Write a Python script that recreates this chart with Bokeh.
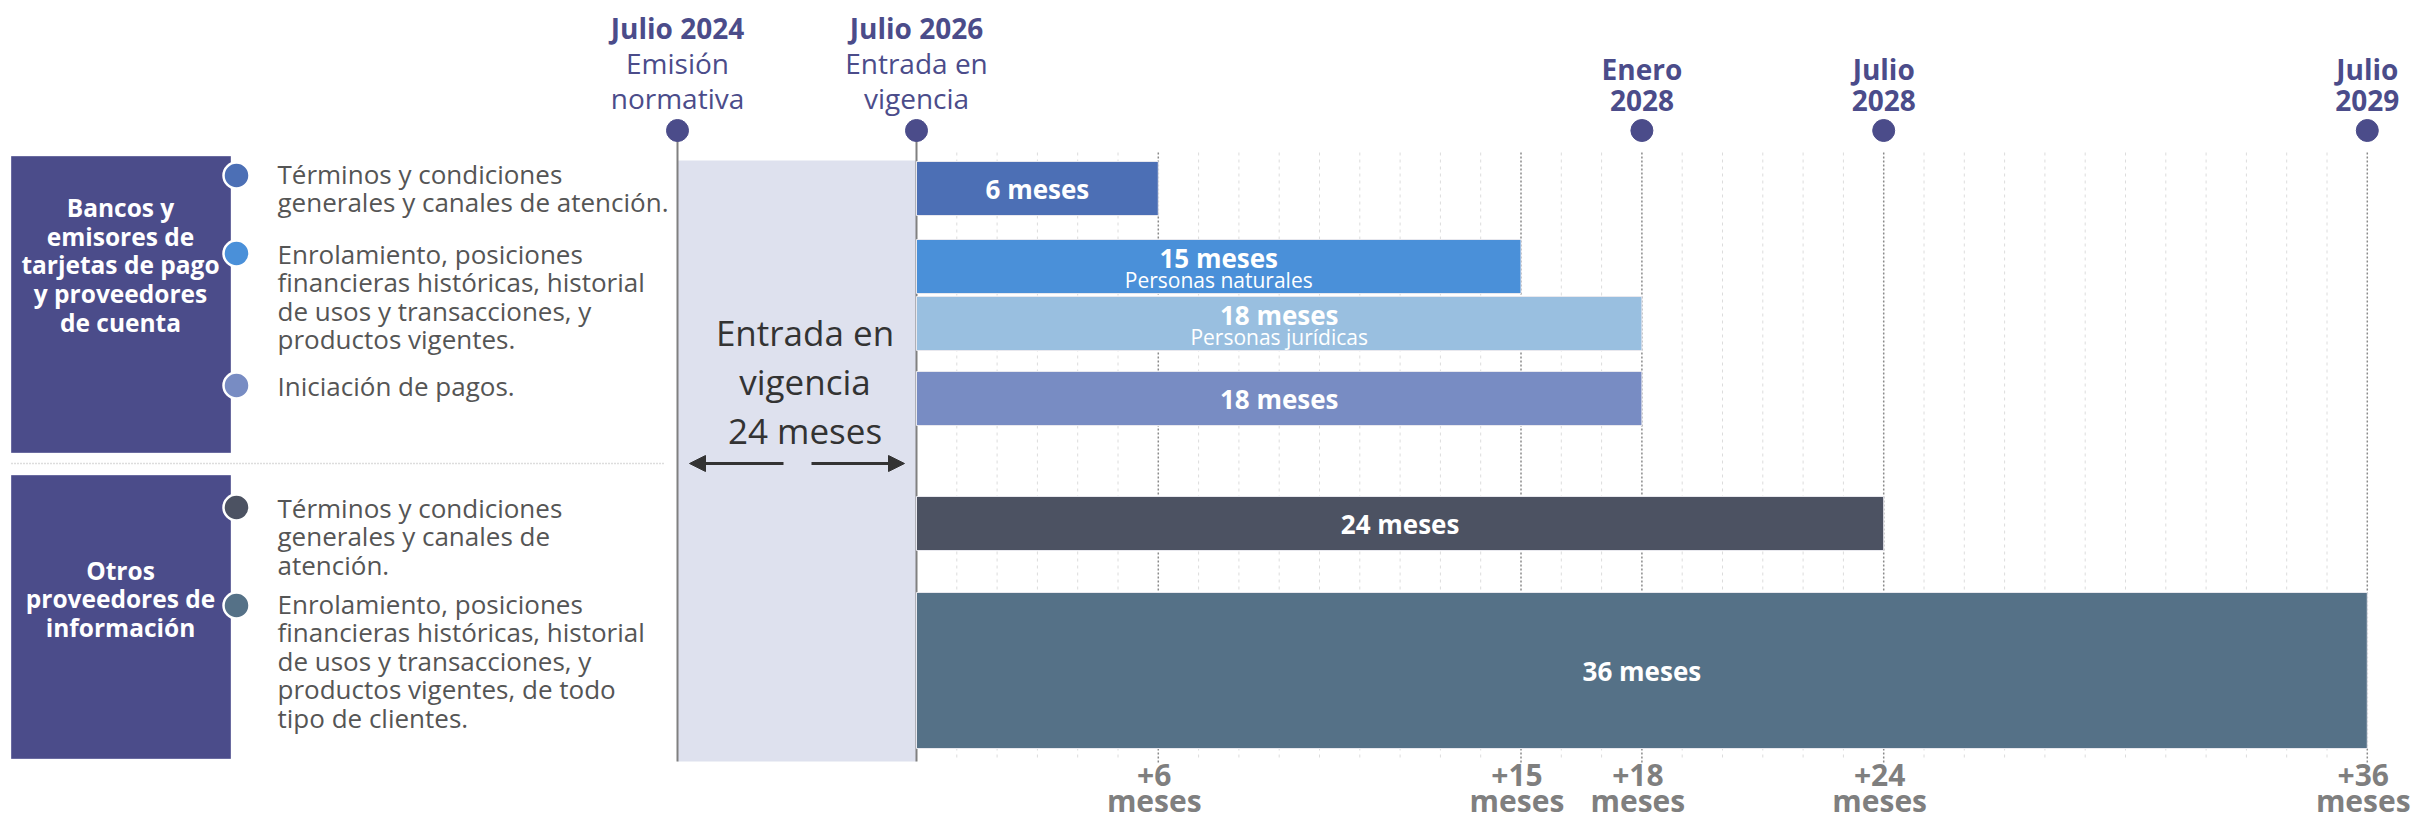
from bokeh.plotting import figure
from bokeh.models import Range1d, Arrow, NormalHead
from bokeh.core.properties import value
from bokeh.embed import file_html
from bokeh.resources import INLINE

# ---------------- data ----------------
group_lines = [
    ["Bancos y", "emisores de", "tarjetas de pago", "y proveedores", "de cuenta"],
    ["Otros", "proveedores de", "información"],
]
item_lines = [
    ["Términos y condiciones", "generales y canales de atención."],
    ["Enrolamiento, posiciones", "financieras históricas, historial", "de usos y transacciones, y", "productos vigentes."],
    ["Iniciación de pagos."],
    ["Términos y condiciones", "generales y canales de", "atención."],
    ["Enrolamiento, posiciones", "financieras históricas, historial", "de usos y transacciones, y", "productos vigentes, de todo", "tipo de clientes."],
]
durations = [6, 15, 18, 18, 24, 36]
bar_labels = ["6 meses", "15 meses", "18 meses", "18 meses", "24 meses", "36 meses"]
bar_sublabels = ["", "Personas naturales", "Personas jurídicas", "", "", ""]
milestone_months = [-24, 0, 18, 24, 36]
milestone_titles = [["Julio 2024"], ["Julio 2026"], ["Enero", "2028"], ["Julio", "2028"], ["Julio", "2029"]]
milestone_subtitles = [["Emisión", "normativa"], ["Entrada en", "vigencia"], [], [], []]
tick_months = [6, 15, 18, 24, 36]
tick_labels = ["+6", "+15", "+18", "+24", "+36"]
tick_unit = "meses"
period_lines = ["Entrada en", "vigencia", "24 meses"]

# ---------------- layout / style ----------------
W, H = 2412, 822
X0_PAGE, PXM = 916.0, 40.3          # canvas x of month 0, pixels per month
PRE_SPAN = (916.0 - 677.0) / PXM     # drawn width of the 24-month pre-period


def pm(xp):
    """canvas x pixel -> x data (months)"""
    return (xp - X0_PAGE) / PXM


def draw_m(m):
    return m if m >= 0 else m * PRE_SPAN / 24.0


FONT = value("Open Sans")
INDIGO = "#4b4c8a"
bar_colors = ["#4c6fb5", "#4a90d9", "#99bfe0", "#788cc3", "#4c5262", "#557187"]
bullet_colors = ["#4c6fb5", "#4a90d9", "#788cc3", "#4c5262", "#557187"]
bar_y = [188, 266, 323, 398, 523, 670]
bar_h = [54, 54, 54, 54, 54, 156]
box_tops = [156, 475]
box_bottoms = [452, 758]
group_text_y = [[207, 236, 264, 293, 322], [570, 598, 627]]
item_y0 = [173, 253, 385, 507, 603]
bullet_y = [175, 253, 385, 507, 605]
LINE_H = 28.6

p = figure(width=W, height=H, output_backend="svg", toolbar_location=None,
           x_range=Range1d(pm(0), pm(W)), y_range=Range1d(H, 0),
           x_axis_location=None, y_axis_location=None, min_border=0)
p.outline_line_color = None
p.xgrid.visible = False
p.ygrid.visible = False
p.background_fill_color = "white"

# shaded pre-period
p.quad(left=[draw_m(milestone_months[0])], right=[draw_m(milestone_months[1])],
       top=[160], bottom=[761], fill_color="#dee1ee", line_color=None)

# grid lines
minor = [m for m in range(1, 37) if m not in tick_months]
p.segment(x0=minor, x1=minor, y0=[152] * len(minor), y1=[760] * len(minor),
          line_color="#dcdcdc", line_width=1, line_dash="3 4")
p.segment(x0=tick_months, x1=tick_months, y0=[152] * len(tick_months), y1=[762] * len(tick_months),
          line_color="#8a8a8a", line_width=1.5, line_dash="2 2")

# milestone vertical lines (solid)
for m in milestone_months[:2]:
    p.segment(x0=[draw_m(m)], x1=[draw_m(m)], y0=[130], y1=[761], line_color="#808080", line_width=2)

# bars
p.hbar(y=bar_y, left=[0] * len(durations), right=durations, height=bar_h,
       fill_color=bar_colors, line_color="#e8e8ee", line_width=1)

# bar labels
for d, lab, sub, y in zip(durations, bar_labels, bar_sublabels, bar_y):
    if sub:
        p.text(x=[d / 2], y=[y - 9], text=[lab], text_font=FONT, text_font_style="bold",
               text_font_size="26px", text_color="white", text_align="center", text_baseline="middle")
        p.text(x=[d / 2], y=[y + 13], text=[sub], text_font=FONT,
               text_font_size="21px", text_color="white", text_align="center", text_baseline="middle")
    else:
        p.text(x=[d / 2], y=[y], text=[lab], text_font=FONT, text_font_style="bold",
               text_font_size="26px", text_color="white", text_align="center", text_baseline="middle")

# milestone dots and labels
p.scatter(x=[draw_m(m) for m in milestone_months], y=[130] * len(milestone_months),
          size=22, fill_color=INDIGO, line_color=INDIGO)
for m, titles, subs in zip(milestone_months, milestone_titles, milestone_subtitles):
    xm = draw_m(m)
    if subs:
        ys_t = [27]
        ys_s = [62, 97]
    else:
        ys_t = [68, 100]
        ys_s = []
    for t, y in zip(titles, ys_t):
        p.text(x=[xm], y=[y], text=[t], text_font=FONT, text_font_style="bold",
               text_font_size="28px", text_color=INDIGO, text_align="center", text_baseline="middle")
    for t, y in zip(subs, ys_s):
        p.text(x=[xm], y=[y], text=[t], text_font=FONT,
               text_font_size="28px", text_color=INDIGO, text_align="center", text_baseline="middle")

# bottom tick labels
for m, lab in zip(tick_months, tick_labels):
    p.text(x=[m - 0.1], y=[774], text=[lab], text_font=FONT, text_font_style="bold",
           text_font_size="30px", text_color="#7f7f7f", text_align="center", text_baseline="middle")
    p.text(x=[m - 0.1], y=[800], text=[tick_unit], text_font=FONT, text_font_style="bold",
           text_font_size="30px", text_color="#7f7f7f", text_align="center", text_baseline="middle")

# pre-period label + arrows
pc = (draw_m(milestone_months[0]) + draw_m(milestone_months[1])) / 2 + pm(804) - pm(796)
for t, y in zip(period_lines, [332, 381, 430]):
    p.text(x=[pc], y=[y], text=[t], text_font=FONT, text_font_size="35px",
           text_color="#333333", text_align="center", text_baseline="middle")
p.add_layout(Arrow(end=NormalHead(size=16, fill_color="#333333", line_color="#333333"),
                   x_start=pm(783), y_start=463, x_end=pm(689), y_end=463,
                   line_color="#333333", line_width=3))
p.add_layout(Arrow(end=NormalHead(size=16, fill_color="#333333", line_color="#333333"),
                   x_start=pm(811), y_start=463, x_end=pm(904), y_end=463,
                   line_color="#333333", line_width=3))

# left panel: group boxes
p.quad(left=[pm(11)] * 2, right=[pm(230)] * 2, top=box_tops, bottom=box_bottoms,
       fill_color=INDIGO, line_color="#6a6ba0", line_width=1)
for lines, ys in zip(group_lines, group_text_y):
    p.text(x=[pm(120)] * len(lines), y=ys, text=lines, text_font=FONT, text_font_style="bold",
           text_font_size="24.5px", text_color="white", text_align="center", text_baseline="middle")

# separator
p.segment(x0=[pm(11)], x1=[pm(664)], y0=[463], y1=[463], line_color="#bbbbbb", line_width=1.5, line_dash="1 2")

# bullets + descriptions
p.scatter(x=[pm(236)] * len(bullet_y), y=bullet_y, size=26, fill_color=bullet_colors,
          line_color="white", line_width=2.5)
for lines, y0 in zip(item_lines, item_y0):
    ys = [y0 + i * LINE_H for i in range(len(lines))]
    p.text(x=[pm(277)] * len(lines), y=ys, text=lines, text_font=FONT, text_font_size="26px",
           text_color="#555555", text_align="left", text_baseline="middle")

open("out.html", "w").write(file_html(p, INLINE))
